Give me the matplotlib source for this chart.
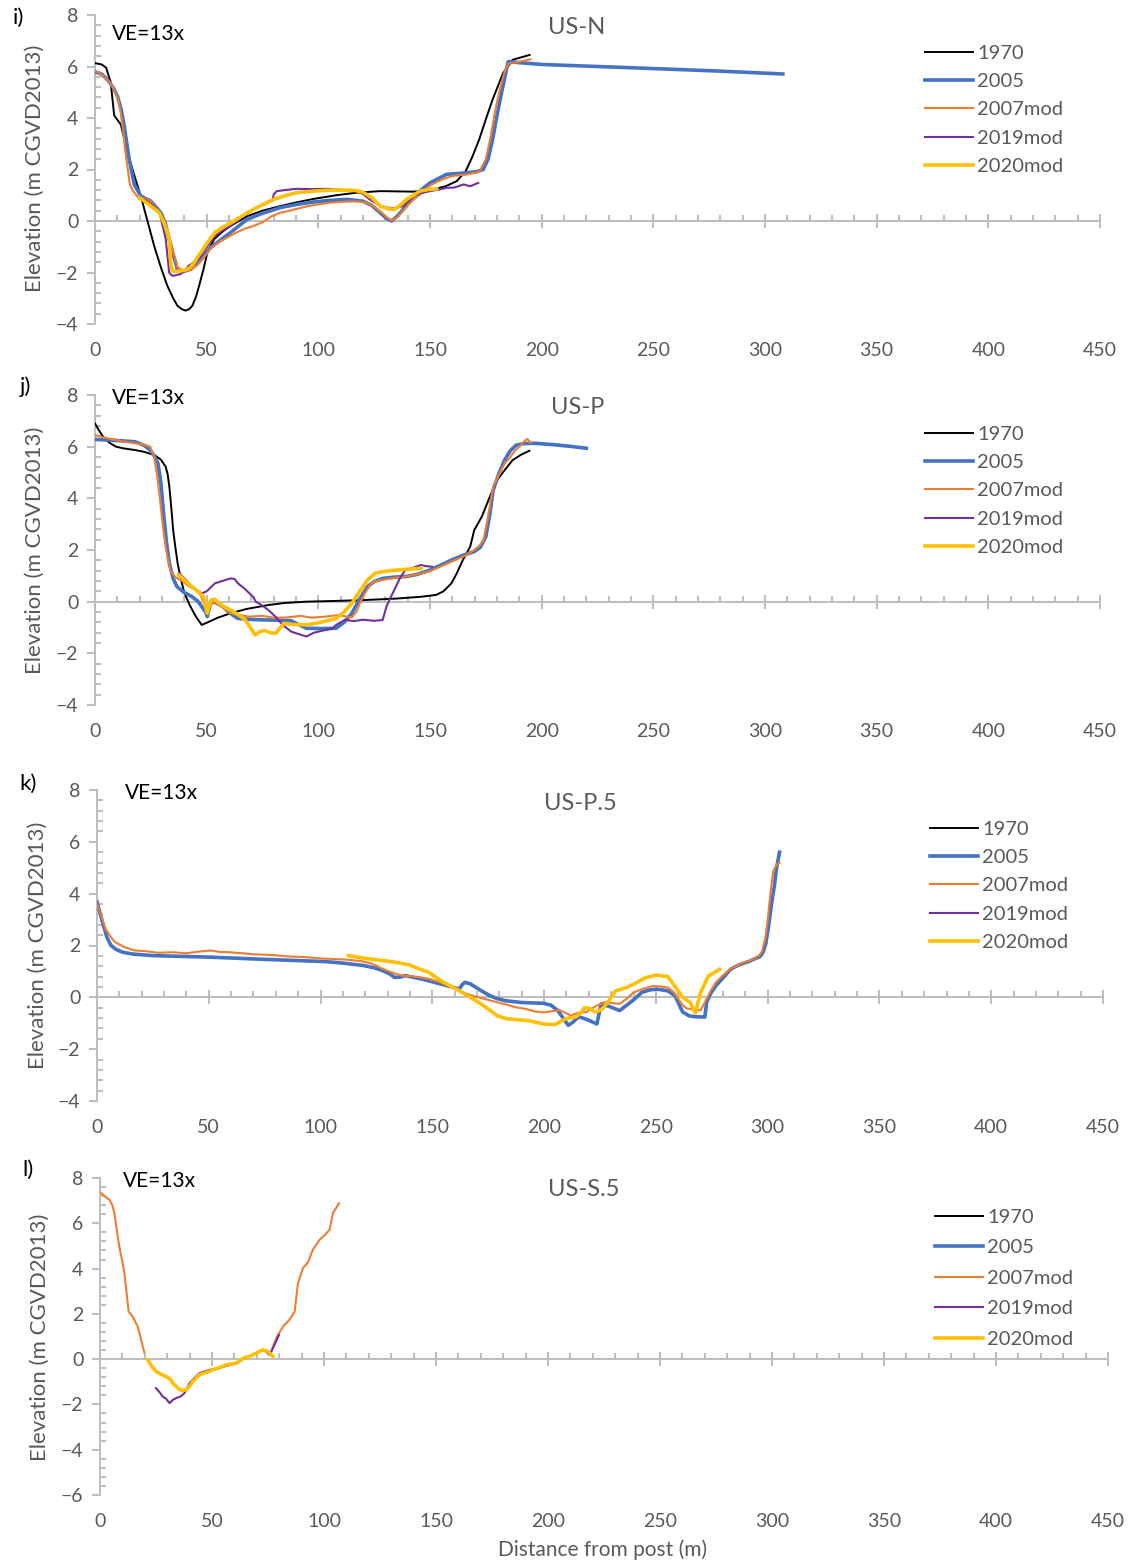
import matplotlib
matplotlib.use("Agg")
import matplotlib.pyplot as plt
from matplotlib.ticker import MultipleLocator
import numpy as np

plt.rcParams['font.family'] = ['Lato', 'DejaVu Sans']

# ---------------- US-N ----------------
N_1970_X = [0, 3, 5, 7, 8.6, 11.6, 14.6, 17.5, 20.5, 23.5, 26.5, 29.5, 32.4, 35, 36.9, 38.8, 40.6, 42.2,
            43.6, 45.2, 46.6, 48.5, 50.3, 53.3, 57, 60.7, 68.2, 75, 83, 90, 98, 108, 117, 127.7, 142.6,
            150, 157, 162, 166, 169, 172, 175, 178, 182.7, 187, 194.6]
N_1970_Y = [6.13, 6.08, 5.95, 5.4, 4.1, 3.74, 2.65, 1.8, 0.97, 0.0, -0.97, -1.8, -2.52, -3.0, -3.29, -3.42,
            -3.48, -3.42, -3.29, -2.95, -2.52, -1.9, -1.23, -0.71, -0.42, -0.19, 0.19, 0.4, 0.58, 0.72,
            0.86, 1.0, 1.1, 1.16, 1.14, 1.2, 1.35, 1.55, 1.94, 2.5, 3.16, 3.95, 4.71, 5.74, 6.26, 6.45]

N_2005_X = [0, 3, 5.7, 8, 10.1, 11.8, 13.1, 15.3, 17.6, 20.5, 25, 29.5, 31.5, 33.2, 35, 36.9, 40, 42.9, 46,
            48.5, 51.8, 56, 60.7, 68, 75, 83, 90, 98, 105, 112.8, 120, 124, 127.7, 130.5, 132.9, 135.5, 138,
            142.6, 150, 157.4, 166, 171, 173.8, 176, 178, 180, 182, 185, 190, 200, 225, 250, 280, 308]
N_2005_Y = [5.8, 5.7, 5.48, 5.2, 4.84, 4.3, 3.68, 2.39, 1.42, 0.97, 0.77, 0.32, -0.1, -0.71, -1.3, -1.87,
            -1.95, -1.87, -1.6, -1.35, -1.03, -0.75, -0.45, 0.06, 0.3, 0.52, 0.64, 0.74, 0.8, 0.84, 0.77,
            0.6, 0.32, 0.1, 0.0, 0.2, 0.45, 0.97, 1.48, 1.81, 1.87, 1.92, 2.0, 2.4, 3.16, 4.1, 4.97, 6.19,
            6.15, 6.08, 6.0, 5.92, 5.82, 5.71]

N_2007_X = [0, 2, 4, 6.9, 8, 10.5, 11.5, 12.7, 13.5, 14.9, 15.6, 17.1, 20, 22, 25, 27, 29, 31, 33, 35, 37,
            40, 43, 46, 49, 52, 55, 58, 61, 64, 67, 71, 75, 79, 83, 88, 94, 100, 106, 112, 118, 122, 125,
            128, 131, 133, 135, 138, 141, 145, 150, 155, 160, 166, 172, 175, 177, 179, 181, 183, 185, 188,
            191, 195]
N_2007_Y = [5.83, 5.75, 5.6, 5.35, 5.2, 4.7, 4.2, 3.42, 2.77, 1.87, 1.42, 1.16, 0.84, 0.9, 0.75, 0.55, 0.3,
            0.0, -0.55, -1.2, -1.8, -1.95, -1.9, -1.7, -1.4, -1.05, -0.85, -0.7, -0.55, -0.42, -0.3, -0.19,
            -0.05, 0.18, 0.32, 0.42, 0.55, 0.65, 0.72, 0.75, 0.76, 0.7, 0.55, 0.35, 0.12, 0.02, 0.12, 0.4,
            0.7, 1.0, 1.38, 1.6, 1.75, 1.8, 1.9, 2.4, 3.2, 4.2, 5.0, 5.7, 6.1, 6.15, 6.2, 6.28]

N_2019_X = [22, 26, 29, 30.3, 31.7, 33.2, 34.6, 36.5, 38.3, 40, 41.9, 44, 46.3, 49.3, 51.5, 53.7, 57, 60.7,
            64.5, 68.2, 72, 76, 79.5, 80, 81.4, 85, 90.2, 97, 105, 111, 117, 120, 123, 127, 130.7, 134, 138,
            142.6, 146, 150, 154, 157.4, 161, 165, 168, 171.6]
N_2019_Y = [0.85, 0.6, 0.3, -0.19, -0.71, -2.0, -2.13, -2.1, -2.06, -1.95, -1.74, -1.62, -1.48, -1.1,
            -0.85, -0.58, -0.38, -0.19, 0.05, 0.32, 0.5, 0.65, 0.8, 1.03, 1.16, 1.2, 1.25, 1.24, 1.25, 1.2,
            1.16, 1.05, 0.84, 0.62, 0.52, 0.5, 0.58, 0.97, 1.08, 1.16, 1.22, 1.29, 1.3, 1.42, 1.35, 1.48]

N_2020_X = [20, 24, 28.8, 31, 32.5, 33.2, 33.9, 34.6, 36.5, 38.3, 40.5, 42.7, 44.5, 46.3, 48, 49.3, 51.5,
            53.7, 57, 61, 64.5, 68.3, 72, 76, 80, 85, 90.2, 98, 105, 112.8, 117, 120, 124, 127.7, 131, 134,
            136.5, 139.6, 142.5, 145.5, 149, 153]
N_2020_Y = [0.9, 0.65, 0.32, -0.1, -0.45, -0.71, -1.61, -1.94, -1.95, -1.94, -1.9, -1.8, -1.6, -1.35,
            -1.15, -0.97, -0.7, -0.45, -0.25, -0.06, 0.12, 0.32, 0.5, 0.68, 0.84, 0.98, 1.1, 1.16, 1.2, 1.2,
            1.18, 1.12, 0.9, 0.58, 0.48, 0.45, 0.6, 0.84, 1.0, 1.16, 1.22, 1.25]

# ---------------- US-P ----------------
P_1970_X = [0, 2, 4.3, 7, 9.4, 13, 17.9, 22, 26.5, 29.5, 31.6, 32.5, 33.3, 34.2, 35, 36, 37, 38.5, 40.1,
            42.5, 45.2, 47.8, 51.2, 55, 60.6, 68, 77.6, 85, 94.7, 108, 120, 135, 146, 152.7, 156, 159.6,
            162, 164.7, 168, 169.8, 171, 173.2, 176.5, 180, 183.5, 187, 191, 194.5]
P_1970_Y = [6.9, 6.6, 6.3, 6.12, 6.0, 5.93, 5.87, 5.8, 5.68, 5.5, 5.23, 4.95, 4.45, 3.6, 2.77, 2.1, 1.48,
            0.85, 0.32, -0.15, -0.58, -0.9, -0.77, -0.62, -0.45, -0.28, -0.13, -0.05, 0.0, 0.03, 0.06,
            0.12, 0.19, 0.26, 0.4, 0.71, 1.1, 1.61, 2.13, 2.77, 2.95, 3.29, 4.0, 4.7, 5.1, 5.48, 5.7, 5.84]

P_2005_X = [0, 8, 17.9, 22, 24.7, 26.5, 28.2, 29.5, 30.7, 32, 33.3, 35, 36.7, 40, 43.5, 46, 47.8, 49.5,
            50.3, 51, 52, 54.5, 57.2, 60.5, 64, 70, 77.6, 83, 87.9, 91, 94.7, 101, 108, 111.5, 115, 118.5,
            122, 125, 128.8, 134, 139, 144, 149.3, 154, 159.6, 165, 169.8, 172.5, 175, 176.8, 178.3, 181,
            183.4, 186, 188.6, 192, 197, 205, 212, 220]
P_2005_Y = [6.28, 6.25, 6.19, 6.05, 5.87, 5.65, 5.35, 4.6, 3.42, 2.3, 1.48, 0.9, 0.58, 0.35, 0.19, 0.02,
            -0.19, -0.4, -0.58, -0.3, 0.0, -0.05, -0.19, -0.45, -0.65, -0.69, -0.71, -0.72, -0.74, -0.88,
            -1.03, -1.04, -1.03, -0.8, -0.45, 0.1, 0.58, 0.78, 0.9, 0.95, 0.97, 1.05, 1.2, 1.38, 1.61, 1.8,
            1.94, 2.1, 2.52, 3.4, 4.32, 5.0, 5.48, 5.85, 6.06, 6.12, 6.13, 6.08, 6.02, 5.94]

P_2007_X = [0, 4, 9.4, 13, 17.9, 22, 24.7, 26.5, 27.8, 29, 30.3, 31.6, 32.8, 34, 36, 38.4, 42, 45, 47,
            48.5, 50.3, 52, 53.7, 57, 60.6, 65, 69.1, 75, 80, 86, 92, 97, 103, 109, 115, 117, 118.6, 121,
            123.7, 126, 128.8, 134, 139, 144, 149.3, 154, 159.6, 165, 169.8, 172, 174, 176, 178.3, 181,
            183.4, 186, 188, 190, 192, 193.5, 195]
P_2007_Y = [6.45, 6.35, 6.26, 6.2, 6.13, 6.08, 6.0, 5.6, 4.9, 4.06, 3.0, 2.13, 1.6, 1.16, 0.95, 0.84, 0.6,
            0.45, 0.32, 0.0, -0.32, -0.1, 0.0, -0.2, -0.45, -0.52, -0.58, -0.55, -0.62, -0.61, -0.55,
            -0.62, -0.58, -0.52, -0.61, -0.4, -0.06, 0.35, 0.71, 0.8, 0.84, 0.92, 0.97, 1.05, 1.16, 1.33,
            1.55, 1.75, 2.0, 2.15, 2.39, 3.3, 4.45, 4.95, 5.35, 5.6, 5.85, 6.0, 6.19, 6.3, 6.15]

P_2019_X = [37.5, 40, 43.5, 45.5, 47.8, 50, 53.7, 57, 60.6, 62.5, 64, 67, 70.8, 72, 74, 77.6, 81, 84,
            87.9, 91, 94.7, 98, 103, 106, 108, 110, 111.8, 116, 120, 125, 128.8, 130.5, 132, 134, 136.5,
            139, 142, 145.9, 148, 151]
P_2019_Y = [1.1, 0.9, 0.58, 0.45, 0.32, 0.4, 0.71, 0.8, 0.9, 0.88, 0.71, 0.5, 0.19, 0.0, -0.1, -0.32,
            -0.6, -0.9, -1.16, -1.25, -1.35, -1.2, -1.1, -1.05, -0.9, -0.8, -0.71, -0.75, -0.7, -0.74,
            -0.71, -0.19, 0.1, 0.45, 0.9, 1.23, 1.3, 1.42, 1.38, 1.35]

P_2020_X = [37.5, 40.5, 43.5, 46, 48.6, 49.5, 50.3, 51, 52, 53.5, 55.5, 58, 60.6, 64, 67.4, 69.5, 71.7,
            74, 76, 78.5, 81, 82.5, 84.5, 88, 94.7, 101, 108, 111.5, 115, 118.5, 122, 123.5, 125.4, 128,
            132, 139, 146]
P_2020_Y = [1.03, 0.8, 0.58, 0.4, 0.19, -0.2, -0.45, -0.2, 0.06, 0.1, -0.06, -0.2, -0.32, -0.5, -0.71,
            -1.0, -1.29, -1.15, -1.12, -1.2, -1.23, -1.05, -0.84, -0.88, -0.9, -0.8, -0.65, -0.4, -0.06,
            0.4, 0.84, 0.95, 1.1, 1.15, 1.2, 1.25, 1.29]

# ---------------- US-P.5 ----------------
P5_2005_X = [0, 1.5, 2.9, 4.5, 6.3, 8.5, 11.5, 16, 25, 50.8, 76.5, 102, 110, 119, 124, 127.8, 131, 133,
             135.5, 138, 141, 145, 153.5, 158, 162, 163.5, 164.6, 167, 171, 175.8, 179, 182.6, 190, 199.7,
             203, 206, 208.5, 210.8, 213, 215.5, 219, 223.6, 225.5, 229, 233.8, 237, 240, 243.7, 247,
             250.3, 255.3, 258.6, 260.5, 262, 265, 268, 271.9, 272.7, 274.5, 276.8, 280, 283.4, 287,
             291.7, 296.7, 298, 299.2, 300.5, 301.7, 303, 304, 305.3]
P5_2005_Y = [3.68, 3.2, 2.77, 2.3, 2.0, 1.85, 1.74, 1.67, 1.61, 1.55, 1.46, 1.38, 1.32, 1.23, 1.14, 1.03,
             0.9, 0.77, 0.78, 0.84, 0.78, 0.71, 0.52, 0.42, 0.32, 0.5, 0.58, 0.52, 0.3, 0.06, -0.05, -0.13,
             -0.2, -0.23, -0.3, -0.5, -0.8, -1.08, -0.95, -0.75, -0.85, -1.03, -0.25, -0.35, -0.51, -0.3,
             -0.1, 0.19, 0.28, 0.32, 0.25, 0.06, -0.3, -0.57, -0.72, -0.75, -0.76, -0.19, 0.15, 0.44,
             0.75, 1.08, 1.25, 1.39, 1.58, 1.75, 2.09, 2.8, 3.6, 4.3, 5.0, 5.6]

P5_2007_X = [0, 2, 3.8, 6, 8, 12, 16.6, 22, 27, 33.7, 40, 45, 50.8, 55, 59.4, 65, 70, 76.5, 80, 85, 93.6,
             100, 105, 110.7, 118, 123, 127.8, 132, 136.4, 140, 145, 149, 153.5, 158, 162, 166, 170.6, 175,
             179, 183, 187.7, 192, 196, 200, 204.8, 207, 210, 212, 215, 219, 221, 224, 227, 230, 233.8,
             237, 240, 244, 248.7, 252, 255.3, 258, 260, 262, 263.6, 267, 270, 272.7, 274.5, 276.8, 280,
             283.4, 288, 293.4, 296, 297.5, 299, 300, 301.2, 302.5, 304, 305.3]
P5_2007_Y = [3.6, 3.1, 2.65, 2.35, 2.13, 1.95, 1.81, 1.78, 1.72, 1.74, 1.7, 1.76, 1.81, 1.75, 1.74, 1.7,
             1.66, 1.64, 1.62, 1.58, 1.55, 1.5, 1.48, 1.46, 1.4, 1.3, 1.1, 0.95, 0.84, 0.82, 0.77, 0.7,
             0.58, 0.42, 0.26, 0.12, 0.0, -0.1, -0.19, -0.28, -0.39, -0.45, -0.55, -0.58, -0.52, -0.5,
             -0.62, -0.7, -0.6, -0.57, -0.45, -0.3, -0.19, -0.22, -0.25, -0.05, 0.19, 0.32, 0.44, 0.42,
             0.38, 0.2, -0.06, -0.3, -0.42, -0.48, -0.5, -0.06, 0.25, 0.57, 0.85, 1.1, 1.3, 1.46, 1.6,
             1.77, 2.3, 2.97, 4.0, 4.87, 5.13, 5.19]

P5_2020_X = [112.4, 120, 127.8, 134, 139.8, 144, 148.3, 152, 155, 158.5, 162, 166, 170.6, 175, 179, 183,
             187.7, 193, 199.7, 205, 209, 212, 214, 216.5, 218, 220, 223, 226, 229, 232, 237, 241, 245.4,
             250.3, 255.3, 259.4, 262, 265.2, 267.7, 268.5, 270, 273.5, 278.5]
P5_2020_Y = [1.61, 1.5, 1.42, 1.35, 1.25, 1.1, 0.97, 0.75, 0.58, 0.42, 0.26, 0.05, -0.19, -0.45, -0.71,
             -0.82, -0.86, -0.9, -1.03, -1.05, -0.85, -0.78, -0.76, -0.6, -0.4, -0.42, -0.57, -0.45, -0.13,
             0.25, 0.38, 0.55, 0.76, 0.86, 0.8, 0.32, 0.0, -0.19, -0.6, -0.3, 0.19, 0.82, 1.08]

# ---------------- US-S.5 ----------------
S5_2007_X = [0, 2, 4.2, 5.5, 6.4, 7.5, 8.6, 9.8, 10.9, 12, 12.8, 14.6, 16.8, 18, 19.1, 19.8, np.nan,
             76.5, 77.2, 79, 81.7, 84.6, 86.9, 88.4, 90.6, 93, 95, 98, 100, 102.5, 104, 106.7]
S5_2007_Y = [7.38, 7.2, 7.04, 6.8, 6.45, 5.7, 4.98, 4.4, 3.8, 2.8, 2.1, 1.88, 1.44, 1.0, 0.56, 0.29, np.nan,
             0.34, 0.56, 1.0, 1.44, 1.74, 2.1, 3.36, 4.02, 4.3, 4.83, 5.27, 5.45, 5.71, 6.45, 6.89]

S5_2019_X = [25, 26.5, 28, 29.5, 31, 32.5, 34, 36, 37.7, 40, 42, 44.4, 48.9, 53, 57, 61, 64, 68, 72, 74,
             75.5, 76.5, 78, 79.9]
S5_2019_Y = [-1.28, -1.45, -1.65, -1.75, -1.94, -1.8, -1.72, -1.65, -1.5, -1.06, -0.85, -0.62, -0.47,
             -0.4, -0.28, -0.2, 0.02, 0.17, 0.38, 0.35, 0.2, 0.34, 0.65, 1.07]

S5_2020_X = [21.3, 23, 25, 27, 29.5, 31.7, 32.5, 34, 35.5, 37, 38.5, 40, 41.4, 44.4, 47, 50.4, 53, 56.3,
             60.8, 63.8, 66, 68.3, 70.5, 72.7, 75, 77.2]
S5_2020_Y = [-0.03, -0.3, -0.54, -0.65, -0.77, -0.91, -1.06, -1.2, -1.35, -1.38, -1.35, -1.2, -0.99,
             -0.69, -0.6, -0.47, -0.38, -0.25, -0.18, 0.04, 0.1, 0.19, 0.3, 0.41, 0.34, 0.12]

LABELS = ['1970', '2005', '2007mod', '2019mod', '2020mod']
COLORS = ['black', '#4472C4', '#ED7D31', '#7030A0', '#FFC000']
WIDTHS = [1.4, 2.6, 1.5, 1.5, 2.6]
DIST_TICKS = np.arange(0, 451, 50)

GRAY = '#595959'
AXIS = '#BFBFBF'

W, H = 1130, 1566
fig = plt.figure(figsize=(W / 100, H / 100), dpi=100)


def px(x, y):
    return x / W, 1 - y / H


# panel settings (pixel positions of x=0/450 and of top/bottom y)
panels = [
    dict(letter='i)', name='US-N', x0=95, x1=1100, ytop=15, ybot=324, ylim=(-4, 8),
         series=[(N_1970_X, N_1970_Y), (N_2005_X, N_2005_Y), (N_2007_X, N_2007_Y),
                 (N_2019_X, N_2019_Y), (N_2020_X, N_2020_Y)],
         letter_xy=(18, 18), title_xy=(577, 28), ve_xy=(112, 34), ylab_xy=(35, 168),
         leg_x=925, leg_y=45, leg_sp=0.55),
    dict(letter='j)', name='US-P', x0=95, x1=1100, ytop=395, ybot=705, ylim=(-4, 8),
         series=[(P_1970_X, P_1970_Y), (P_2005_X, P_2005_Y), (P_2007_X, P_2007_Y),
                 (P_2019_X, P_2019_Y), (P_2020_X, P_2020_Y)],
         letter_xy=(25, 387), title_xy=(578, 408), ve_xy=(112, 398), ylab_xy=(35, 550),
         leg_x=925, leg_y=426, leg_sp=0.55),
    dict(letter='k)', name='US-P.5', x0=97, x1=1103, ytop=790, ybot=1101, ylim=(-4, 8),
         series=[([], []), (P5_2005_X, P5_2005_Y), (P5_2007_X, P5_2007_Y),
                 ([], []), (P5_2020_X, P5_2020_Y)],
         letter_xy=(28, 784), title_xy=(580, 803), ve_xy=(125, 793), ylab_xy=(38, 945),
         leg_x=930, leg_y=821, leg_sp=0.55),
    dict(letter='l)', name='US-S.5', x0=100, x1=1108, ytop=1178, ybot=1495, ylim=(-6, 8),
         series=[([], []), ([], []), (S5_2007_X, S5_2007_Y),
                 (S5_2019_X, S5_2019_Y), (S5_2020_X, S5_2020_Y)],
         letter_xy=(28, 1170), title_xy=(584, 1190), ve_xy=(123, 1181), ylab_xy=(40, 1337),
         leg_x=935, leg_y=1209, leg_sp=0.66),
]

for p in panels:
    left, bottom = px(p['x0'], p['ybot'])
    width = (p['x1'] - p['x0']) / W
    height = (p['ybot'] - p['ytop']) / H
    ax = fig.add_axes([left, bottom, width, height])
    ax.patch.set_alpha(0)

    for (xs, ys), lab, c, lw in zip(p['series'], LABELS, COLORS, WIDTHS):
        ax.plot(xs, ys, color=c, lw=lw, label=lab, solid_joinstyle='round')

    ax.set_xlim(0, 450)
    ax.set_ylim(*p['ylim'])

    for s in ['top', 'right']:
        ax.spines[s].set_visible(False)
    ax.spines['bottom'].set_position(('data', 0))
    for s in ['bottom', 'left']:
        ax.spines[s].set_color(AXIS)
        ax.spines[s].set_linewidth(1.5)
        ax.spines[s].set_zorder(0)

    ax.set_xticks(DIST_TICKS)
    ax.xaxis.set_minor_locator(MultipleLocator(10))
    ax.yaxis.set_major_locator(MultipleLocator(2))
    ax.yaxis.set_minor_locator(MultipleLocator(0.4))

    ax.tick_params(axis='x', which='major', direction='inout', length=10, width=1.5,
                   color=AXIS, labelbottom=False)
    ax.tick_params(axis='x', which='minor', direction='in', length=4, width=1.5, color=AXIS)
    ax.tick_params(axis='y', which='major', direction='out', length=6, width=1.5,
                   color=AXIS, labelcolor=GRAY, labelsize=14, pad=6)
    ax.tick_params(axis='y', which='minor', direction='in', length=4, width=1.5, color=AXIS)

    # distance labels sit below the plot, away from the zero line
    sec = ax.secondary_xaxis('bottom')
    sec.set_xticks(DIST_TICKS)
    sec.spines['bottom'].set_visible(False)
    sec.tick_params(axis='x', length=0, labelcolor=GRAY, labelsize=14, pad=13)

    leg = ax.legend(loc='upper left', bbox_to_anchor=px(p['leg_x'], p['leg_y']),
                    bbox_transform=fig.transFigure, frameon=False, fontsize=14.5,
                    handlelength=2.4, handletextpad=0.2, labelspacing=p['leg_sp'],
                    borderpad=0, borderaxespad=0)
    for t in leg.get_texts():
        t.set_color(GRAY)

    fig.text(*px(*p['letter_xy']), p['letter'], fontsize=16, ha='center', va='center', color='black')
    fig.text(*px(*p['title_xy']), p['name'], fontsize=17, ha='center', va='center', color=GRAY)
    fig.text(*px(*p['ve_xy']), 'VE=13x', fontsize=15, ha='left', va='center', color='black')
    fig.text(*px(*p['ylab_xy']), 'Elevation (m CGVD2013)', fontsize=16, rotation=90,
             ha='center', va='center', color=GRAY)

fig.text(*px(603, 1550), 'Distance from post (m)', fontsize=15, ha='center', va='center', color=GRAY)

fig.savefig('out.png', dpi=100)
